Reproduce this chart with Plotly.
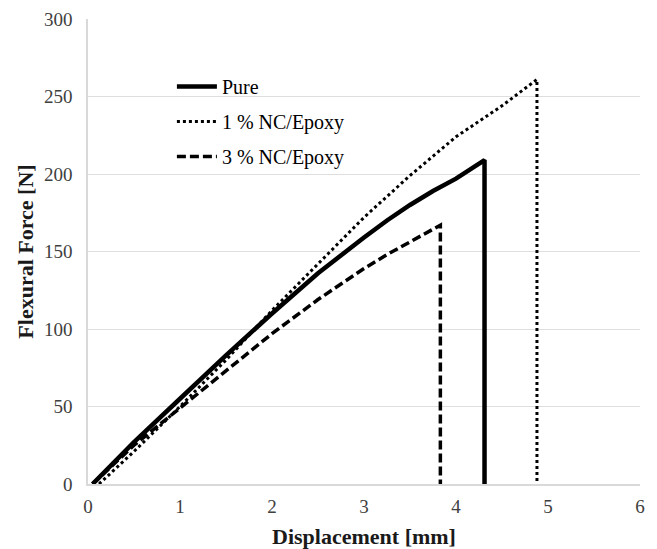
import plotly.graph_objects as go

# Data
pure_x = [0.05, 0.5, 1.0, 1.5, 2.0, 2.5, 3.0, 3.25, 3.5, 3.75, 4.0, 4.15, 4.31, 4.31]
pure_y = [0, 27, 55, 83, 110, 136, 159, 170, 180, 189, 197, 203, 209, 0]

nc1_x = [0.12, 0.5, 1.0, 1.5, 2.0, 2.5, 3.0, 3.5, 4.0, 4.5, 4.88, 4.88]
nc1_y = [0, 21, 50, 80, 112, 142, 172, 199, 224, 244, 261, 0]

nc3_x = [0.05, 0.5, 1.0, 1.5, 2.0, 2.5, 3.0, 3.25, 3.5, 3.65, 3.83, 3.83]
nc3_y = [0, 25, 49, 73, 97, 119, 139, 148, 156, 161, 167, 0]

names = ["Pure", "1 % NC/Epoxy", "3 % NC/Epoxy"]
x_ticks = [0, 1, 2, 3, 4, 5, 6]
y_ticks = [0, 50, 100, 150, 200, 250, 300]

font_family = "Liberation Serif, Times New Roman, serif"

fig = go.Figure()
fig.add_trace(go.Scatter(x=pure_x, y=pure_y, mode="lines", name=names[0],
                         legendgroup="a",
                         line=dict(color="black", width=4.5, dash="solid")))
fig.add_trace(go.Scatter(x=nc1_x, y=nc1_y, mode="lines", name=names[1],
                         legendgroup="b",
                         line=dict(color="black", width=3, dash="3px,3px")))
fig.add_trace(go.Scatter(x=nc3_x, y=nc3_y, mode="lines", name=names[2],
                         legendgroup="c",
                         line=dict(color="black", width=3.5, dash="9px,4px")))

# The page body adds an 8px offset, so the figure is sized to fit the window.
fig.update_layout(
    width=649, height=541,
    margin=dict(l=80, r=17, t=11, b=65),
    paper_bgcolor="white", plot_bgcolor="white",
    font=dict(family=font_family, size=19, color="#404040"),
    showlegend=True,
    legend=dict(x=0.152, y=0.897, xanchor="left", yanchor="top",
                bgcolor="rgba(0,0,0,0)", tracegroupgap=6,
                font=dict(family=font_family, size=20, color="black"),
                itemwidth=40),
    xaxis=dict(range=[0, 6], tickvals=x_ticks, showgrid=False, zeroline=False,
               showline=True, linecolor="#d9d9d9", linewidth=1.5,
               ticks="", automargin=False, ticklabelstandoff=4,
               tickfont=dict(family=font_family, size=19, color="#404040"),
               title=dict(text="<b>Displacement [mm]</b>",
                          font=dict(family=font_family, size=22, color="#1a1a1a"),
                          standoff=13)),
    yaxis=dict(range=[0, 300], tickvals=y_ticks, showgrid=True, gridcolor="#dedede",
               gridwidth=1.2, zeroline=False,
               showline=True, linecolor="#d9d9d9", linewidth=1.5,
               ticks="", automargin=False, ticklabelstandoff=10,
               tickfont=dict(family=font_family, size=19, color="#404040"),
               title=dict(text="<b>Flexural Force [N]</b>",
                          font=dict(family=font_family, size=22, color="#1a1a1a"),
                          standoff=4)),
)

fig.write_html("out.html")
